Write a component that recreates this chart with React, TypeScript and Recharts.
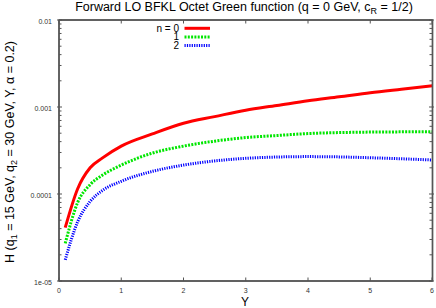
import { LineChart, Line, XAxis, YAxis, Legend, Label } from 'recharts';

// rapidity Y and the Green function H for conformal spins n = 0, 1, 2
const rapidity = [0.1, 0.3, 0.5, 0.7, 1.0, 1.5, 2.0, 2.5, 3.0, 3.5, 4.0, 4.5, 5.0, 5.5, 6.0];
const hN0 = [4.1e-5, 1.15e-4, 2.0e-4, 2.6e-4, 3.55e-4, 4.9e-4, 6.5e-4, 7.75e-4, 9.2e-4, 1.04e-3, 1.18e-3, 1.31e-3, 1.46e-3, 1.6e-3, 1.75e-3];
const hN1 = [2.7e-5, 8.0e-5, 1.28e-4, 1.65e-4, 2.15e-4, 2.95e-4, 3.55e-4, 4.05e-4, 4.45e-4, 4.7e-4, 4.95e-4, 5.08e-4, 5.15e-4, 5.18e-4, 5.2e-4];
const hN2 = [1.75e-5, 4.8e-5, 8.2e-5, 1.1e-4, 1.4e-4, 1.82e-4, 2.15e-4, 2.4e-4, 2.57e-4, 2.66e-4, 2.69e-4, 2.67e-4, 2.61e-4, 2.54e-4, 2.46e-4];

const xTicks = [0, 1, 2, 3, 4, 5, 6];
const yMajorTicks = [1e-5, 1e-4, 1e-3, 1e-2];
const yMajorLabels = ['1e-05', '0.0001', '0.001', '0.01'];
const yMinorTicks = [
  2e-5, 3e-5, 4e-5, 5e-5, 6e-5, 7e-5, 8e-5, 9e-5,
  2e-4, 3e-4, 4e-4, 5e-4, 6e-4, 7e-4, 8e-4, 9e-4,
  2e-3, 3e-3, 4e-3, 5e-3, 6e-3, 7e-3, 8e-3, 9e-3,
];

const series = [
  { key: 'n0', name: 'n = 0', color: '#ff0000', dash: undefined },
  { key: 'n1', name: '1', color: '#00e600', dash: '2 1.3' },
  { key: 'n2', name: '2', color: '#0000ff', dash: '1.2 1.2' },
];

const data = rapidity.map((Y, i) => ({ Y, n0: hN0[i], n1: hN1[i], n2: hN2[i] }));
const yTicks = [...yMajorTicks, ...yMinorTicks].sort((a, b) => a - b);

const AXIS = '#555555';
const FONT = '"Liberation Sans", Arial, Helvetica, sans-serif';
// plot box, follows from the chart margins and axis sizes below
const BOX = { left: 59, top: 20, right: 432.5, bottom: 281 };

const LeftTick = ({ x, y, payload }: any) => {
  const i = yMajorTicks.indexOf(payload.value);
  const x0 = i < 0 ? x : x - 2;
  const len = i < 0 ? 2.5 : 5;
  return (
    <g>
      <rect x={x0} y={y - 0.5} width={len} height={1} fill={AXIS} />
      {i >= 0 && (
        <text x={x - 7} y={y} dy={4} textAnchor="end" fontSize={7} fill="#333">
          {yMajorLabels[i]}
        </text>
      )}
    </g>
  );
};

const RightTick = ({ x, y, payload }: any) => {
  const major = yMajorTicks.includes(payload.value);
  return <rect x={x - (major ? 3.5 : 3)} y={y - 0.5} width={major ? 5 : 3} height={1} fill={AXIS} />;
};

const BottomTick = ({ x, y, payload }: any) => (
  <g>
    <rect x={x - 0.5} y={y - 3.5} width={1} height={3.5} fill={AXIS} />
    <text x={x} y={y + 12.3} textAnchor="middle" fontSize={7} fill="#333">
      {payload.value}
    </text>
  </g>
);

const TopTick = ({ x, y }: any) => <rect x={x - 0.5} y={y} width={1} height={3.5} fill={AXIS} />;

const renderLegend = () => (
  <svg width={436} height={308} style={{ display: 'block' }}>
    <rect
      x={BOX.left}
      y={BOX.top}
      width={BOX.right - BOX.left}
      height={BOX.bottom - BOX.top}
      fill="none"
      stroke={AXIS}
      strokeWidth={1.4}
    />
    {series.map((s, i) => {
      const cy = 28.3 + i * 8.6;
      return (
        <g key={s.key}>
          <text x={179} y={cy + 3.5} textAnchor="end" fontSize={10} fill="#000">
            {s.name}
          </text>
          <line x1={184.5} x2={210} y1={cy} y2={cy} stroke={s.color} strokeWidth={3} strokeDasharray={s.dash} />
        </g>
      );
    })}
  </svg>
);

export default function App() {
  return (
    <div style={{ position: 'absolute', left: 0, top: 0, width: 436, height: 308, fontFamily: FONT }}>
      <LineChart width={436} height={308} data={data} margin={{ top: 19, right: 2.5, bottom: 0, left: 0 }}>
        <XAxis
          xAxisId="b"
          dataKey="Y"
          type="number"
          domain={[0, 6]}
          ticks={xTicks}
          height={27}
          tickSize={0}
          tickMargin={0}
          tick={<BottomTick />}
          tickLine={false}
          axisLine={{ stroke: AXIS, strokeWidth: 1.4 }}
          allowDataOverflow
        >
          <Label
            content={() => (
              <text x={245} y={305.5} textAnchor="middle" fontSize={12} fill="#000">
                Y
              </text>
            )}
          />
        </XAxis>
        <XAxis
          xAxisId="t"
          orientation="top"
          dataKey="Y"
          type="number"
          domain={[0, 6]}
          ticks={xTicks}
          height={1}
          tickSize={0}
          tickMargin={0}
          tick={<TopTick />}
          tickLine={false}
          axisLine={{ stroke: AXIS, strokeWidth: 1.4 }}
          allowDataOverflow
        >
          <Label
            content={() => (
              <text x={244} y={10.5} textAnchor="middle" fontSize={12.5} fill="#000">
                Forward LO BFKL Octet Green function (q = 0 GeV, c
                <tspan dy={3} fontSize={9}>R</tspan>
                <tspan dy={-3}> = 1/2)</tspan>
              </text>
            )}
          />
        </XAxis>
        <YAxis
          yAxisId="l"
          scale="log"
          domain={[1e-5, 1e-2]}
          ticks={yTicks}
          width={59}
          tickSize={0}
          tickMargin={0}
          tick={<LeftTick />}
          tickLine={false}
          interval={0}
          axisLine={{ stroke: AXIS, strokeWidth: 1.4 }}
          allowDataOverflow
        >
          <Label
            content={() => (
              <text x={14} y={152} transform="rotate(-90 14 152)" textAnchor="middle" fontSize={12.5} fill="#000">
                H (q<tspan dy={3} fontSize={9}>1</tspan>
                <tspan dy={-3}> = 15 GeV, q</tspan>
                <tspan dy={3} fontSize={9}>2</tspan>
                <tspan dy={-3}> = 30 GeV, Y, α = 0.2)</tspan>
              </text>
            )}
          />
        </YAxis>
        <YAxis
          yAxisId="r"
          orientation="right"
          scale="log"
          domain={[1e-5, 1e-2]}
          ticks={yTicks}
          width={1}
          tickSize={0}
          tickMargin={0}
          tick={<RightTick />}
          tickLine={false}
          interval={0}
          axisLine={{ stroke: AXIS, strokeWidth: 1.4 }}
          allowDataOverflow
        />
        {series.map((s) => (
          <Line
            key={s.key}
            xAxisId="b"
            yAxisId="l"
            type="monotone"
            dataKey={s.key}
            name={s.name}
            stroke={s.color}
            strokeWidth={3}
            strokeDasharray={s.dash}
            dot={false}
            isAnimationActive={false}
          />
        ))}
        <Legend
          content={renderLegend}
          layout="horizontal"
          verticalAlign="middle"
          align="center"
          wrapperStyle={{ position: 'absolute', left: 0, top: 0, width: 436, height: 308, pointerEvents: 'none' }}
        />
      </LineChart>
    </div>
  );
}
